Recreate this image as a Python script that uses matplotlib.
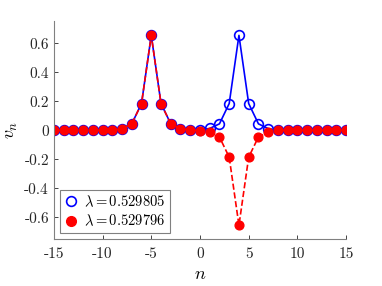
import numpy as np
import matplotlib
matplotlib.use("Agg")
import matplotlib.pyplot as plt
from matplotlib.lines import Line2D

plt.rcParams['font.family'] = 'serif'
plt.rcParams['font.serif'] = ['cmr10']
plt.rcParams['mathtext.fontset'] = 'cm'
plt.rcParams['axes.unicode_minus'] = False
plt.rcParams['axes.formatter.use_mathtext'] = True

n = np.arange(-15, 16)
# lambda = 0.529805 (two in-phase peaks)
v_blue = [0, 0, 0, 0, 0, 0, 0, 0.012, 0.045, 0.185, 0.655, 0.185, 0.045, 0.012, 0.004,
          0.004, 0.013, 0.045, 0.185, 0.655, 0.185, 0.045, 0.012, 0, 0, 0, 0, 0, 0, 0, 0]
# lambda = 0.529796 (out-of-phase peaks)
v_red = [0, 0, 0, 0, 0, 0, 0, 0.012, 0.045, 0.185, 0.655, 0.185, 0.045, 0.012, 0.003,
         -0.003, -0.013, -0.046, -0.185, -0.655, -0.185, -0.046, -0.012, 0, 0, 0, 0, 0, 0, 0, 0]

xticks = [-15, -10, -5, 0, 5, 10, 15]
yticks = [-0.6, -0.4, -0.2, 0, 0.2, 0.4, 0.6]
yticklabels = ['-0.6', '-0.4', '-0.2', '0', '0.2', '0.4', '0.6']

fig = plt.figure(figsize=(3.82, 2.86), dpi=100)
ax = fig.add_axes([0.141, 0.164, 0.765, 0.763])

ax.plot(n, v_blue, '-', color='blue', lw=1.2, marker='o', ms=7, mfc='none', mec='blue', mew=1.2)
ax.plot(n, v_red, '--', color='red', lw=1.2, marker='o', ms=6.3, mfc='red', mec='red')

ax.set_xlim(-15, 15)
ax.set_ylim(-0.75, 0.755)
ax.set_xticks(xticks)
ax.set_xticklabels([str(t) for t in xticks])
ax.set_yticks(yticks)
ax.set_yticklabels(yticklabels)
ax.tick_params(direction='in', length=3, width=0.6, labelsize=11, colors='#262626')
ax.tick_params(axis='x', pad=6)
for s in ['top', 'right']:
    ax.spines[s].set_visible(False)
for s in ['left', 'bottom']:
    ax.spines[s].set_color('#808080')
    ax.spines[s].set_linewidth(0.8)

ax.set_xlabel('$n$', fontsize=13, labelpad=4)
ax.set_ylabel('$v_n$', fontsize=13, labelpad=3)

handles = [
    Line2D([], [], ls='none', marker='o', ms=7, mfc='none', mec='blue', mew=1.2),
    Line2D([], [], ls='none', marker='o', ms=7, mfc='red', mec='red'),
]
leg = ax.legend(handles, [r'$\lambda = 0.529805$', r'$\lambda = 0.529796$'],
                loc='lower left', bbox_to_anchor=(0.02, 0.028), borderaxespad=0,
                fontsize=10.5, fancybox=False, framealpha=1, edgecolor='#808080',
                handlelength=1.0, handletextpad=0.4, borderpad=0.3, labelspacing=0.25)
leg.get_frame().set_linewidth(0.8)

fig.savefig('out.png', dpi=100)
